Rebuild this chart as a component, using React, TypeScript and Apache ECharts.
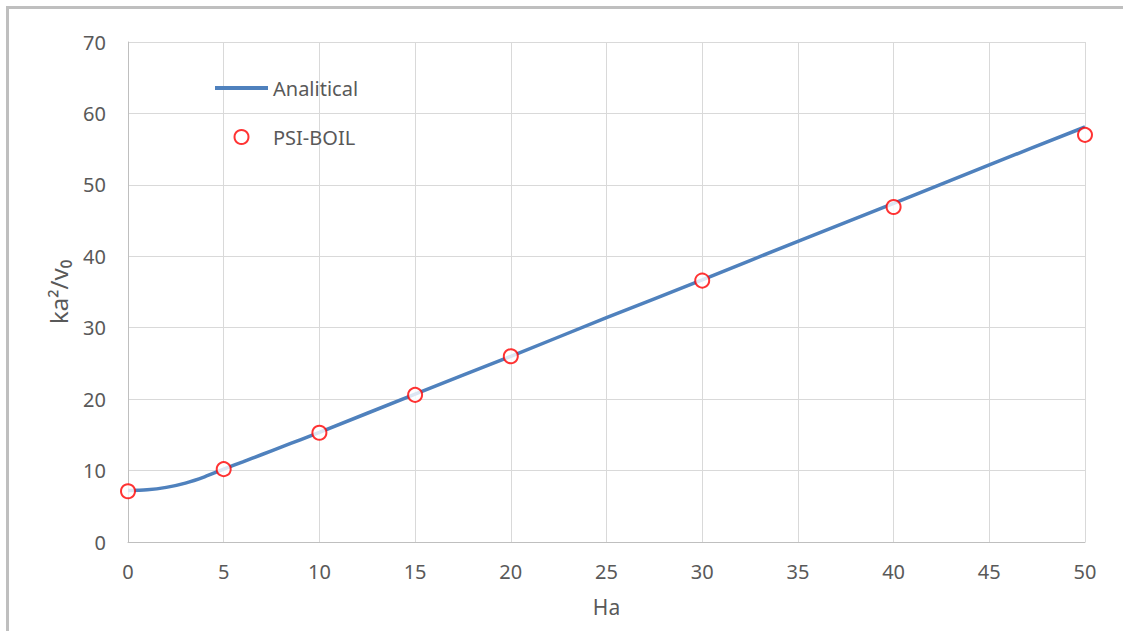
import React, { useEffect, useRef } from "react";
import * as echarts from "echarts";

const analyticalHa = [0, 1, 2, 3, 4, 5, 6, 7, 8, 9, 10, 15, 20, 25, 30, 35, 40, 45, 50];
const analyticalK = [7.2, 7.3, 7.65, 8.25, 9.13, 10.2, 11.22, 12.25, 13.28, 14.31, 15.35, 20.7, 26.0, 31.4, 36.7, 42.1, 47.4, 52.8, 58.1];
const psiHa = [0, 5, 10, 15, 20, 30, 40, 50];
const psiK = [7.1, 10.2, 15.3, 20.6, 26.0, 36.6, 46.9, 57.0];

const FONT = "'Noto Sans', 'Open Sans', sans-serif";
const TEXT = "#595959";

export default function App() {
  const ref = useRef<HTMLDivElement>(null);
  useEffect(() => {
    if (!ref.current) return;
    const chart = echarts.init(ref.current, null, { renderer: "svg" });
    chart.setOption({
      animation: false,
      backgroundColor: "#ffffff",
      textStyle: { fontFamily: FONT },
      graphic: [
        {
          type: "rect",
          shape: { x: 7.5, y: 7.5, width: 1200, height: 700 },
          style: { fill: "none", stroke: "#bfbfbf", lineWidth: 3 },
          silent: true,
        },
      ],
      grid: { left: 128, right: 38, top: 42, bottom: 89 },
      legend: {
        orient: "vertical",
        left: 215,
        top: 78,
        padding: 0,
        itemWidth: 53,
        itemHeight: 14,
        itemGap: 29,
        itemStyle: { borderWidth: 2 },
        textStyle: { fontSize: 20, color: TEXT, fontFamily: FONT },
        data: [
          { name: "Analitical", icon: "path://M0,0 L53,0 L53,4 L0,4 Z", itemStyle: { color: "#4F81BD", borderWidth: 0 } },
          { name: "PSI-BOIL", icon: "emptyCircle" },
        ],
      },
      xAxis: {
        type: "value",
        min: 0,
        max: 50,
        interval: 5,
        name: "Ha",
        nameLocation: "middle",
        nameGap: 54,
        nameTextStyle: { fontSize: 21, color: TEXT, fontFamily: FONT },
        axisLine: { show: true, lineStyle: { color: "#bfbfbf", width: 1 } },
        axisTick: { show: false },
        axisLabel: { fontSize: 20, color: TEXT, margin: 19, fontFamily: FONT },
        splitLine: { show: true, lineStyle: { color: "#d9d9d9", width: 1 } },
      },
      yAxis: {
        type: "value",
        min: 0,
        max: 70,
        interval: 10,
        name: "ka²/v₀",
        nameLocation: "middle",
        nameGap: 58,
        nameTextStyle: { fontSize: 24, color: TEXT, fontFamily: FONT },
        axisLine: { show: true, lineStyle: { color: "#bfbfbf", width: 1 } },
        axisTick: { show: false },
        axisLabel: { fontSize: 20, color: TEXT, margin: 22, fontFamily: FONT },
        splitLine: { show: true, lineStyle: { color: "#d9d9d9", width: 1 } },
      },
      series: [
        {
          name: "Analitical",
          type: "line",
          data: analyticalHa.map((x, i) => [x, analyticalK[i]]),
          smooth: 0.3,
          showSymbol: false,
          symbol: "none",
          lineStyle: { color: "#4F81BD", width: 3.5 },
          itemStyle: { color: "#4F81BD" },
          z: 2,
        },
        {
          name: "PSI-BOIL",
          type: "scatter",
          data: psiHa.map((x, i) => [x, psiK[i]]),
          symbol: "emptyCircle",
          symbolSize: 14,
          itemStyle: { color: "#ff0000", borderColor: "#ff0000", borderWidth: 2 },
          z: 3,
        },
      ],
    });
    return () => chart.dispose();
  }, []);
  return (
    <div
      ref={ref}
      style={{ position: "fixed", left: 0, top: 0, width: 1123, height: 631 }}
    />
  );
}
